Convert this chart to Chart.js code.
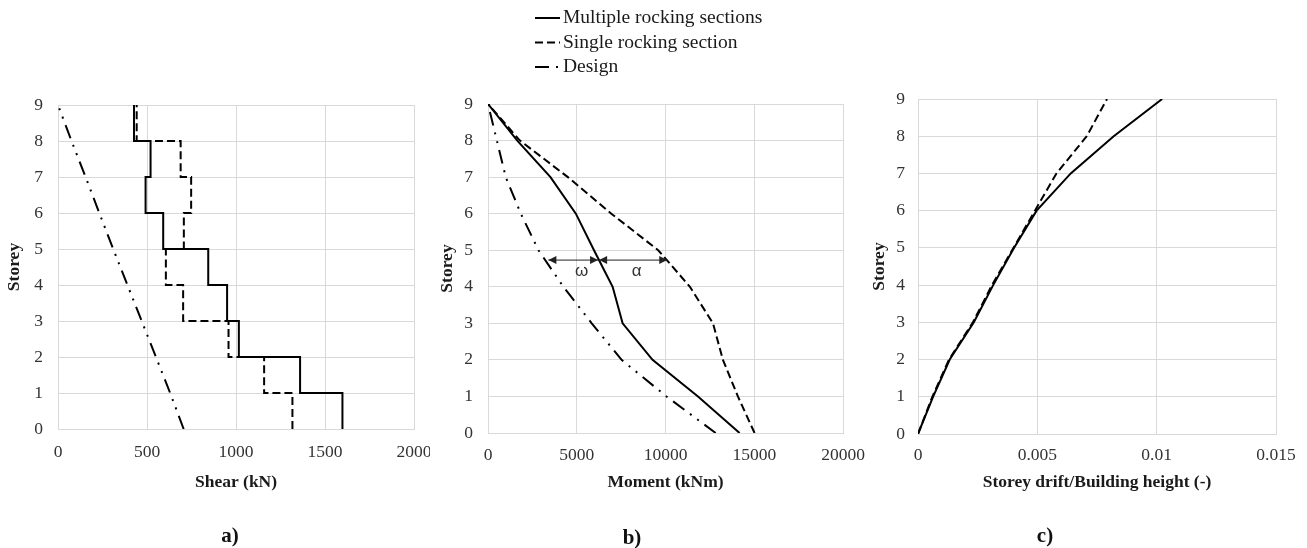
<!DOCTYPE html>
<html>
<head>
<meta charset="utf-8">
<script src="https://cdn.jsdelivr.net/npm/chart.js@4.4.1/dist/chart.umd.min.js"></script>
<style>
  body { margin: 0; background: #fff; width: 1307px; height: 548px; overflow: hidden; position: relative; font-family: "Liberation Serif", serif; }
  canvas { position: absolute; top: 0; }
  .cap { position: absolute; font-weight: bold; font-size: 21px; color: #111; transform: translate(-50%, -50%); }
</style>
</head>
<body>
<canvas id="shear" width="430" height="548" style="left:0"></canvas>
<canvas id="moment" width="434" height="548" style="left:436px"></canvas>
<canvas id="drift" width="443" height="548" style="left:864px"></canvas>
<div class="cap" style="left:230px;top:535px">a)</div>
<div class="cap" style="left:632px;top:537px">b)</div>
<div class="cap" style="left:1045px;top:535px">c)</div>
<script>
const storeys = [0, 1, 2, 3, 4, 5, 6, 7, 8, 9];

// shear of each storey, listed from the bottom storey (level 0-1) up to the top one (8-9)
const shearMultiple = [1598, 1360, 1016, 950, 844, 591, 492, 520, 427];
const shearSingle = [1317, 1158, 958, 703, 606, 707, 748, 689, 442];
// the rest are values at each level 0..9
const shearDesign = [706, 630, 550, 470, 390, 310, 232, 155, 76, 0];

const momentMultiple = [14174, 11830, 9270, 7584, 7022, 5972, 4950, 3520, 1650, 0];
const momentSingle = [15017, 14079, 13236, 12675, 11376, 9590, 6950, 4500, 1800, 0];
const momentDesign = [12826, 10056, 7528, 5843, 4247, 2843, 1850, 1000, 500, 0];

const driftMultiple = [0, 0.00063, 0.00133, 0.00234, 0.00315, 0.00402, 0.00497, 0.0064, 0.0082, 0.01023];
const driftSingle = [0, 0.0006, 0.0013, 0.0023, 0.0031, 0.004, 0.0049, 0.0058, 0.00707, 0.00792];

const shearTicks = [0, 500, 1000, 1500, 2000];
const momentTicks = [0, 5000, 10000, 15000, 20000];
const driftTicks = [0, 0.005, 0.01, 0.015];

const seriesNames = ['Multiple rocking sections', 'Single rocking section', 'Design'];

// omega / alpha gap arrows in panel b (storey, moments)
const arrowStorey = 4.73;
const omegaArrow = [3400, 6200];
const alphaArrow = [6260, 10100];
const gapLabels = [['\u03c9', 5280, 4.41], ['\u03b1', 8370, 4.41]];

const gridColor = '#d9d9d9';
const solid = [];
const dashed = [8, 4];
const dashDotDot = [14, 7, 2, 7, 2, 7];

function levelPoints(values) {
  return values.map((v, i) => ({ x: v, y: storeys[i] }));
}

function stepPoints(values) {
  const pts = [];
  values.forEach((v, i) => {
    pts.push({ x: v, y: storeys[i] });
    pts.push({ x: v, y: storeys[i + 1] });
  });
  return pts;
}

function line(label, data, dash) {
  return { label: label, data: data, showLine: true, borderColor: '#000', backgroundColor: '#000',
    borderWidth: 2, borderDash: dash, pointRadius: 0, tension: 0 };
}

const legendPlugin = {
  id: 'stackedLegend',
  afterDraw(chart) {
    const ctx = chart.ctx;
    ctx.save();
    ctx.font = '19.5px "Liberation Serif"';
    ctx.textBaseline = 'middle';
    ctx.fillStyle = '#1a1a1a';
    chart.data.datasets.forEach((ds, i) => {
      const y = 18 + i * 24.5;
      ctx.beginPath();
      ctx.setLineDash(ds.borderDash);
      ctx.lineWidth = 2;
      ctx.strokeStyle = ds.borderColor;
      ctx.moveTo(99, y);
      ctx.lineTo(124, y);
      ctx.stroke();
      ctx.fillText(ds.label, 127, y);
    });
    ctx.restore();
  }
};

function drawArrow(ctx, x0, x1, y) {
  ctx.beginPath();
  ctx.moveTo(x0, y);
  ctx.lineTo(x1, y);
  ctx.stroke();
  [[x0, 1], [x1, -1]].forEach(([x, d]) => {
    ctx.beginPath();
    ctx.moveTo(x, y);
    ctx.lineTo(x + d * 8, y - 4);
    ctx.lineTo(x + d * 8, y + 4);
    ctx.closePath();
    ctx.fill();
  });
}

const arrowPlugin = {
  id: 'gapArrows',
  afterDatasetsDraw(chart) {
    const { ctx, scales: { x, y } } = chart;
    const py = y.getPixelForValue(arrowStorey);
    ctx.save();
    ctx.strokeStyle = '#222';
    ctx.fillStyle = '#222';
    ctx.lineWidth = 1;
    drawArrow(ctx, x.getPixelForValue(omegaArrow[0]), x.getPixelForValue(omegaArrow[1]), py);
    drawArrow(ctx, x.getPixelForValue(alphaArrow[0]), x.getPixelForValue(alphaArrow[1]), py);
    ctx.font = '17px "Liberation Sans"';
    ctx.textAlign = 'center';
    ctx.textBaseline = 'middle';
    ctx.fillStyle = '#333';
    gapLabels.forEach(([t, v, s]) => ctx.fillText(t, x.getPixelForValue(v), y.getPixelForValue(s)));
    ctx.restore();
  }
};

function storeyChart(id, cfg) {
  const tickFont = { family: 'Liberation Serif', size: 17.5, lineHeight: 1.2 };
  const titleFont = { family: 'Liberation Serif', size: 17.5, weight: 'bold', lineHeight: 1.2 };
  return new Chart(document.getElementById(id), {
    type: 'scatter',
    data: { datasets: cfg.datasets },
    options: {
      responsive: false,
      animation: false,
      events: [],
      layout: { padding: { top: cfg.top, right: cfg.right, left: 0, bottom: 0 } },
      plugins: { legend: { display: false }, tooltip: { enabled: false } },
      scales: {
        x: {
          type: 'linear',
          min: cfg.xTicks[0],
          max: cfg.xTicks[cfg.xTicks.length - 1],
          afterBuildTicks: s => { s.ticks = cfg.xTicks.map(v => ({ value: v })); },
          afterFit: s => { s.height = cfg.xAxisHeight; s.paddingLeft = 0; s.paddingRight = 0; },
          grid: { color: gridColor, drawTicks: false },
          border: { color: gridColor },
          ticks: { padding: cfg.xTickPad, font: tickFont, color: '#333', callback: v => String(v) },
          title: { display: true, text: cfg.xTitle, font: titleFont, color: '#1a1a1a', padding: { top: 0, bottom: 55.5 } }
        },
        y: {
          type: 'linear',
          min: 0,
          max: 9,
          afterBuildTicks: s => { s.ticks = storeys.map(v => ({ value: v })); },
          afterFit: s => { s.width = cfg.yAxisWidth; s.paddingTop = 0; s.paddingBottom = 0; },
          grid: { color: gridColor, drawTicks: false },
          border: { color: gridColor },
          ticks: { padding: cfg.yTickPad, font: tickFont, color: '#333' },
          title: { display: true, text: 'Storey', font: titleFont, color: '#1a1a1a', padding: { top: cfg.yTitlePad, bottom: 0 } }
        }
      }
    },
    plugins: cfg.plugins || []
  });
}

storeyChart('shear', {
  datasets: [
    line(seriesNames[0], stepPoints(shearMultiple), solid),
    line(seriesNames[1], stepPoints(shearSingle), dashed),
    line(seriesNames[2], levelPoints(shearDesign), dashDotDot)
  ],
  xTicks: shearTicks, xTitle: 'Shear (kN)',
  top: 105, right: 16, xAxisHeight: 119, yAxisWidth: 58,
  xTickPad: 12.5, yTickPad: 15, yTitlePad: 3.5
});

storeyChart('moment', {
  datasets: [
    line(seriesNames[0], levelPoints(momentMultiple), solid),
    line(seriesNames[1], levelPoints(momentSingle), dashed),
    line(seriesNames[2], levelPoints(momentDesign), dashDotDot)
  ],
  xTicks: momentTicks, xTitle: 'Moment (kNm)',
  top: 104, right: 27, xAxisHeight: 115, yAxisWidth: 52,
  xTickPad: 11.5, yTickPad: 15, yTitlePad: 1,
  plugins: [legendPlugin, arrowPlugin]
});

storeyChart('drift', {
  datasets: [
    line(seriesNames[0], levelPoints(driftMultiple), solid),
    line(seriesNames[1], levelPoints(driftSingle), dashed)
  ],
  xTicks: driftTicks, xTitle: 'Storey drift/Building height (-)',
  top: 99, right: 31, xAxisHeight: 114, yAxisWidth: 54,
  xTickPad: 10.5, yTickPad: 13, yTitlePad: 4.5
});
</script>
</body>
</html>
